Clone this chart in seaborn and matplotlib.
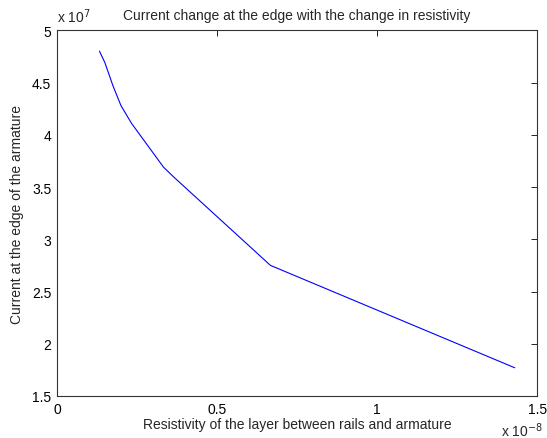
import matplotlib
matplotlib.use("Agg")
import matplotlib.pyplot as plt
import seaborn as sns
import pandas as pd

# resistivity (x 1e-8) and current at edge (x 1e7)
resistivity = [0.133, 0.15, 0.175, 0.2, 0.233, 0.333, 0.367, 0.667, 1.43]
current = [4.80, 4.69, 4.47, 4.28, 4.11, 3.69, 3.59, 2.75, 1.77]

df = pd.DataFrame({"rho": resistivity, "I": current})

sns.set_style("white")
plt.rcParams['font.family'] = ['Liberation Sans', 'DejaVu Sans']

fig = plt.figure(figsize=(5.47, 4.39), dpi=100)
ax = fig.add_axes([0.104, 0.0957, 0.878, 0.833])
sns.lineplot(data=df, x="rho", y="I", color="blue", linewidth=0.8, ax=ax, sort=False)

ax.set_xlim(0, 1.5)
ax.set_ylim(1.5, 5)
ax.set_xticks([0, 0.5, 1, 1.5])
ax.set_xticklabels(["0", "0.5", "1", "1.5"])
ax.set_yticks([1.5, 2, 2.5, 3, 3.5, 4, 4.5, 5])
ax.set_yticklabels(["1.5", "2", "2.5", "3", "3.5", "4", "4.5", "5"])
ax.tick_params(direction="in", top=True, right=True, length=4, width=0.6,
               labelsize=10, colors="black", pad=4)
for s in ax.spines.values():
    s.set_color("#333333")
    s.set_linewidth(0.8)

ax.set_title("Current change at the edge with the change in resistivity", fontsize=10, pad=8)
ax.set_xlabel("Resistivity of the layer between rails and armature", fontsize=10, labelpad=1)
ax.set_ylabel("Current at the edge of the armature", fontsize=10, labelpad=6)

ax.text(0.0, 1.041, "x 10$^{7}$", transform=ax.transAxes, fontsize=10, ha="left", va="center")
ax.text(1.0125, -0.093, "x 10$^{-8}$", transform=ax.transAxes, fontsize=10, ha="right", va="center")

fig.savefig("out.png", dpi=100)
